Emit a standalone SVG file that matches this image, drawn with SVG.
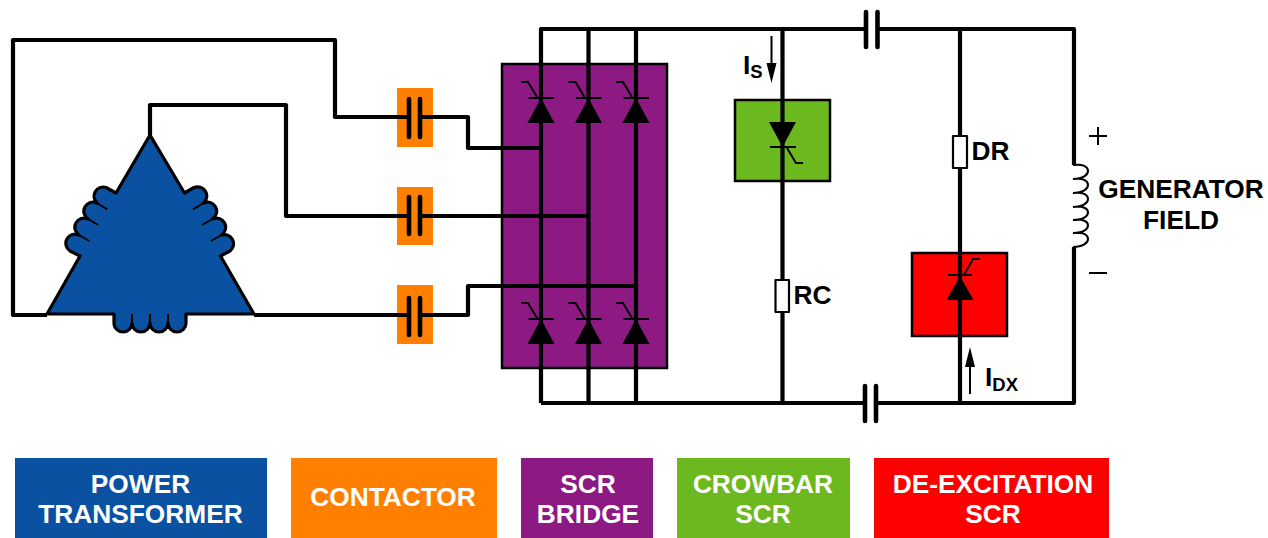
<svg xmlns="http://www.w3.org/2000/svg" width="1268" height="538" viewBox="0 0 1268 538">
<style>
.w{fill:none;stroke:#000;stroke-width:4.200;stroke-linejoin:round}
.p{fill:none;stroke:#000;stroke-width:4.600;stroke-linecap:round}
.t{fill:none;stroke:#000;stroke-width:2}
.b{stroke:#000;stroke-width:2.500}
.r{fill:#fff;stroke:#000;stroke-width:2.200;stroke-linejoin:round}
text{font-family:"Liberation Sans",Arial,sans-serif;font-weight:bold;font-size:26.300px;fill:#000}
.l{fill:#fff;text-anchor:middle}
.s{font-size:18.500px}
.o{fill:#ff8000}
</style>
<defs>
<g id="scr"><path d="M-13.500,25H13.500L0,0Z"/><path class="t" d="M-12.500,0H13M-20,-16H-13L-4,-1"/></g>
</defs>
<rect width="1268" height="538" fill="#fff"/>
<g id="power-transformer">
<path fill="#0b51a1" stroke="#000" stroke-width="3.200" stroke-linejoin="round" d="M150,135L184.500,193L194,187.500A9.200,9.200 0 0 1 203.500,203A9.200,9.200 0 0 1 212.500,219A9.200,9.200 0 0 1 221.500,235A9.200,9.200 0 0 1 230,251L220.500,256L254,314H186V323A9,9 0 0 1 168,323A9,9 0 0 1 150,323A9,9 0 0 1 132,323A9,9 0 0 1 114,323V314H47L80,256L70,251A9.200,9.200 0 0 1 79,235A9.200,9.200 0 0 1 88,219A9.200,9.200 0 0 1 97,203A9.200,9.200 0 0 1 106,187.500L116,193Z"/>
<path class="t" stroke-width="3" d="M97,203L107.300,209.300M88,219L98.300,225M79,235L89.300,241M203.500,203L193,209.300M212.500,219L202,225M221.500,235L211,241M132,314V323M150,314V323M168,314V323"/>
</g>
<g id="contactor-1"><rect class="o" x="397" y="88" width="36" height="59"/></g>
<g id="contactor-2"><rect class="o" x="397" y="187" width="36" height="58"/></g>
<g id="contactor-3"><rect class="o" x="397" y="285" width="36" height="59"/></g>
<g id="scr-bridge"><rect class="b" x="502" y="64" width="165" height="304" fill="#8c1a82"/></g>
<g id="crowbar-scr"><rect class="b" x="735" y="100" width="95" height="81" fill="#6cb91f"/></g>
<g id="de-excitation-scr"><rect class="b" x="912" y="253" width="95" height="83" fill="#f00"/></g>
<g id="connectors">
<path class="w" d="M47,315H13V40H335V117H409M420,117H468V148H541"/>
<path class="w" d="M150,135V105H286V216H409M420,216H589"/>
<path class="w" d="M254,315H409M420,315H468V286H636"/>
<path class="w" d="M541,403V29H866M877,29H1074V165M1074,247V403H876M865,403H541M588.500,29V403M636,29V403M782.500,29V403M960,29V403"/>
<path class="p" d="M866,12V47M877.500,12V47M865,386V421M876,386V421"/>
<path class="p" d="M409,99V137M420,99V137M409,197V234M420,197V234M409,298V335M420,298V335"/>
</g>
<g id="scr-devices">
<use href="#scr" x="541" y="98"/><use href="#scr" x="588.500" y="98"/><use href="#scr" x="636" y="98"/>
<use href="#scr" x="541" y="319"/><use href="#scr" x="588.500" y="319"/><use href="#scr" x="636" y="319"/>
<path d="M769,122H796L782.500,147Z"/><path class="t" d="M770,147H796M787,148L796,163H803"/>
<path d="M946.500,300H973.500L960,276Z"/><path class="t" d="M948,275H972M964,275L973,259H980"/>
</g>
<g id="resistor-rc"><rect class="r" x="775.500" y="280" width="13.500" height="32"/><text x="793.500" y="304">RC</text></g>
<g id="resistor-dr"><rect class="r" x="953" y="136" width="14" height="32"/><text x="971.500" y="160">DR</text></g>
<g id="current-is"><path class="t" stroke-width="1.800" d="M771.500,36V65"/><path d="M766.500,63H776.500L771.500,83Z"/><text x="743" y="73.500">I<tspan class="s" dy="4.500">S</tspan></text></g>
<g id="current-idx"><path class="t" stroke-width="1.800" d="M970,394V365"/><path d="M965,367H975L970,347Z"/><text x="985" y="386">I<tspan class="s" dy="4.500">DX</tspan></text></g>
<g id="generator-field">
<path class="t" d="M1073,165C1093,162 1093,179 1073,179C1093,176 1093,193 1073,193C1093,190 1093,207 1073,207C1093,204 1093,220 1073,220C1093,217 1093,233 1073,233C1093,230 1093,247 1073,247"/>
<path class="t" d="M1098,127V145M1089,136H1107M1089,273H1107"/>
<text x="1181" y="197.500" text-anchor="middle">GENERATOR</text>
<text x="1181" y="228.500" text-anchor="middle">FIELD</text>
</g>
<g id="legend-power-transformer"><rect x="15" y="458" width="252" height="80" fill="#0b51a1"/><text class="l" x="140.500" y="493">POWER</text><text class="l" x="140.500" y="522.500">TRANSFORMER</text></g>
<g id="legend-contactor"><rect class="o" x="291" y="458" width="206" height="80"/><text class="l" x="393" y="506">CONTACTOR</text></g>
<g id="legend-scr-bridge"><rect x="521" y="458" width="132" height="80" fill="#8c1a82"/><text class="l" x="588" y="493">SCR</text><text class="l" x="588" y="522.500">BRIDGE</text></g>
<g id="legend-crowbar-scr"><rect x="677" y="458" width="173" height="80" fill="#6cb91f"/><text class="l" x="763" y="493">CROWBAR</text><text class="l" x="763" y="522.500">SCR</text></g>
<g id="legend-de-excitation-scr"><rect x="874" y="458" width="235" height="80" fill="#f00"/><text class="l" x="993" y="493">DE-EXCITATION</text><text class="l" x="993" y="522.500">SCR</text></g>
</svg>
